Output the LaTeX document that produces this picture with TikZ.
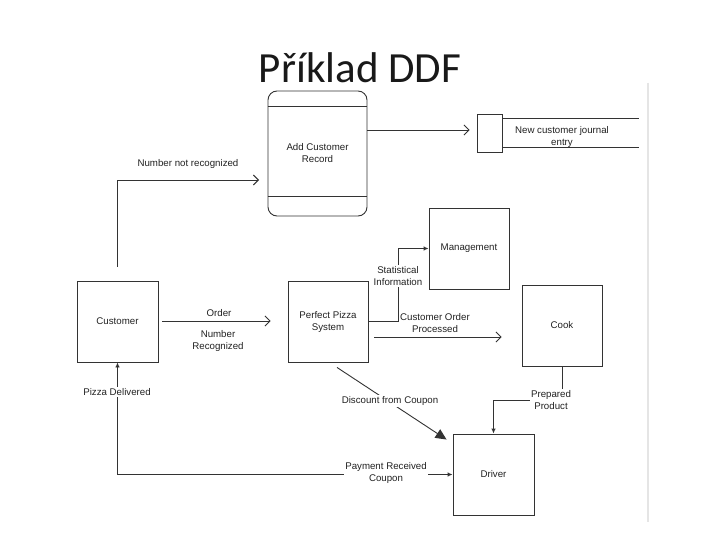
\documentclass[tikz,border=0pt]{standalone}
\usepackage{fontspec}
\setmainfont{Liberation Sans}
\newfontfamily\titlefont{Carlito}
\usetikzlibrary{arrows.meta,calc}
\definecolor{linec}{HTML}{333333}
\definecolor{txtc}{HTML}{222222}
\newcommand\lblfont{\fontsize{9.7}{12}\selectfont}
\begin{document}
\begin{tikzpicture}[x=1pt,y=-1pt,
  box/.style={draw=linec, line width=0.9pt, minimum width=81pt, minimum height=81pt,
    inner sep=0pt, align=center, font=\lblfont, text=txtc},
  lbl/.style={font=\lblfont, text=txtc, align=center, inner sep=1.5pt},
  lblw/.style={lbl, fill=white},
  conn/.style={draw=linec, line width=0.9pt},
  openarr/.style={conn, -{Straight Barb[length=5pt,width=10pt]}},
  fillarr/.style={conn, -{Latex[length=5pt,width=4.5pt]}},
]
\useasboundingbox[fill=white] (0,0) rectangle (720,540);
% faint slide edge
\draw[color=black!10, line width=2pt] (648,83) -- (648,522);

% title
\node[font=\titlefont\fontsize{43}{50}\selectfont, text=black!90] (title) at (360,68) {Příklad DDF};

% nodes
\node[box, minimum width=99pt, minimum height=125pt, rounded corners=9pt] (acr) at (317.5,153.5) {Add Customer\\Record};
\draw[conn] ([yshift=-16pt]acr.north west) -- ([yshift=-16pt]acr.north east);
\draw[conn] ([yshift=20pt]acr.south west) -- ([yshift=20pt]acr.south east);

\node[box, minimum width=25pt, minimum height=38pt] (je) at (489.5,133) {};
\coordinate (jeTop) at (639,118);
\coordinate (jeBot) at (639,147);
\draw[conn] (je.east |- jeTop) -- (jeTop);
\draw[conn] (je.east |- jeBot) -- (jeBot);
\node[lbl] (jetext) at (562,137) {New customer journal\\entry};

\node[box] (cust) at (117.5,321.5) {Customer};
\node[box, minimum width=80pt] (pps) at (328,321.5) {Perfect Pizza\\System};
\node[box, minimum width=80pt] (mgmt) at (469,248.5) {Management};
\node[box, minimum width=80pt] (cook) at (562,325.5) {Cook};
\node[box] (drv) at (493.5,474.5) {Driver};

% Number not recognized
\coordinate (nnrEnd) at (259,180);
\draw[openarr] ([yshift=14pt]cust.north) |- (nnrEnd);
\node[lbl] (nnr) at (188,164) {Number not recognized};

% ACR -> journal
\draw[openarr] (acr.east |- 0,130) -- ([xshift=-7pt]je.west |- 0,130);

% Order
\draw[openarr, shorten <=4pt] (cust.east |- 0,321) -- ([xshift=-17pt]pps.west |- 0,321);
\node[lbl] (order) at (219,313) {Order};
\node[lbl] (numrec) at (218,341) {Number\\Recognized};

% Statistical information
\draw[fillarr] (pps.east) -- (398,321.5) |- (mgmt.west);
\node[lblw] (stat) at (398,276) {Statistical\\Information};

% Customer order processed
\draw[openarr, shorten <=6pt] (pps.east |- 0,337) -- ([xshift=-20pt]cook.west |- 0,337);
\node[lbl] (cop) at (435,323) {Customer Order\\Processed};

% Prepared product
\draw[fillarr] (cook.south) |- (drv.north |- 0,400) -- (drv.north);
\node[lblw] (prep) at (551,400) {Prepared\\Product};

% Discount from coupon
\draw[conn, -{Triangle[length=11pt,width=10pt]}] ($(pps.south)+(9,5)$) -- ($(drv.north west)+(-6,6)$);
\node[lblw] (disc) at (390,401) {Discount from Coupon};

% Pizza delivered / payment
\draw[conn, {Latex[length=5pt,width=4.5pt]}-{Latex[length=5pt,width=4.5pt]}] (cust.south) |- (drv.west);
\node[lblw] (pd) at (117,392) {Pizza Delivered};
\node[lblw] (pay) at (386,473) {Payment Received\\Coupon};
\end{tikzpicture}
\end{document}
